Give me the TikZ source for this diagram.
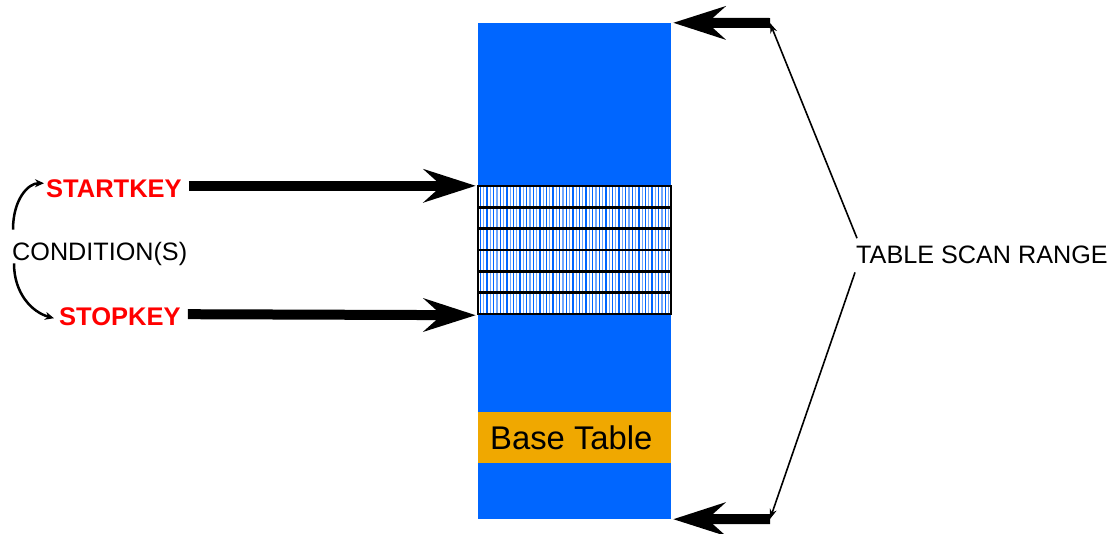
\documentclass[tikz,border=0pt]{standalone}
\usepackage{fontspec}
\setmainfont{Liberation Sans}
\usetikzlibrary{arrows.meta,positioning}
\definecolor{tblblue}{HTML}{0066FF}
\definecolor{hatchblue}{HTML}{70A8FF}
\definecolor{baseorange}{HTML}{F0A800}
\definecolor{keyred}{HTML}{FF0000}
\tikzset{
  keylabel/.style={text=keyred,font=\fontsize{25.5}{28}\selectfont\bfseries,inner sep=0pt},
  plainlabel/.style={font=\fontsize{25.2}{28}\selectfont,inner sep=0pt},
  fatarrow/.style={line width=10pt,-{Stealth[length=52pt,width=33pt,inset=18pt]}},
  thinarrow/.style={line width=1.6pt,-{Stealth[length=10pt,width=7pt]}},
  curvearrow/.style={line width=2.5pt,-{Stealth[length=9pt,width=8pt]}},
}
\begin{document}
\begin{tikzpicture}[x=1pt,y=-1pt]
	\useasboundingbox (0,0) rectangle (1113,533);
	% the table
	\node[fill=tblblue,minimum width=193pt,minimum height=496pt,inner sep=0pt] (table) at (574.5,271) {};
	\fill[baseorange] (478,412) rectangle (671,463);
	\node[font=\fontsize{32.8}{36}\selectfont,inner sep=0pt,anchor=base west] (base) at (490,449) {Base Table};
	% scanned rows
	\node[fill=white,minimum width=193pt,minimum height=128pt,inner sep=0pt] (band) at (574.5,250) {};
	\foreach \x in {480.5,487.1,...,670} \draw[tblblue,line width=1.3pt] (\x,186)--(\x,314);
	\foreach \x in {483.8,490.4,...,670} \draw[hatchblue,line width=1.3pt] (\x,186)--(\x,314);
	\foreach \y in {207.3,228.7,250,271.3,292.7} \draw[line width=2.5pt] (478,\y)--(671,\y);
	\draw[line width=2.5pt] (band.north west) rectangle (band.south east);
	% keys
	\node[keylabel,anchor=base west] (startkey) at (46,197) {STARTKEY};
	\node[keylabel,anchor=base west] (stopkey) at (59,325) {STOPKEY};
	\node[plainlabel,anchor=base west] (cond) at (12,260) {CONDITION(S)};
	\draw[curvearrow] ([xshift=1pt,yshift=12pt]cond.north west) .. controls +(0,-30) and +(-16,0) .. ([xshift=-2pt,yshift=5pt]startkey.west);
	\draw[curvearrow] ([xshift=2pt,yshift=2pt]cond.south west) .. controls +(0,30) and +(-22,-6) .. ([xshift=-5pt,yshift=-2pt]stopkey.west);
	\draw[fatarrow] ([xshift=7pt]startkey.east |- band.north west) -- ([xshift=-2pt]band.north west);
	\draw[fatarrow] ([xshift=7pt]stopkey.east |- band.south west) -- ([xshift=-2pt,yshift=-1pt]band.south west);
	% scan range
	\coordinate (toptail) at (770,23);
	\coordinate (bottail) at (770,519);
	\draw[fatarrow] (toptail) -- ([xshift=2pt]table.north east);
	\draw[fatarrow] (bottail) -- ([xshift=2pt]table.south east);
	\node[plainlabel,anchor=base west] (scanrange) at (856,263) {TABLE SCAN RANGE};
	\draw[thinarrow] ([xshift=1pt,yshift=7pt]scanrange.north west) -- (toptail);
	\draw[thinarrow] ([xshift=-1pt,yshift=-9pt]scanrange.south west) -- (bottail);
\end{tikzpicture}
\end{document}
